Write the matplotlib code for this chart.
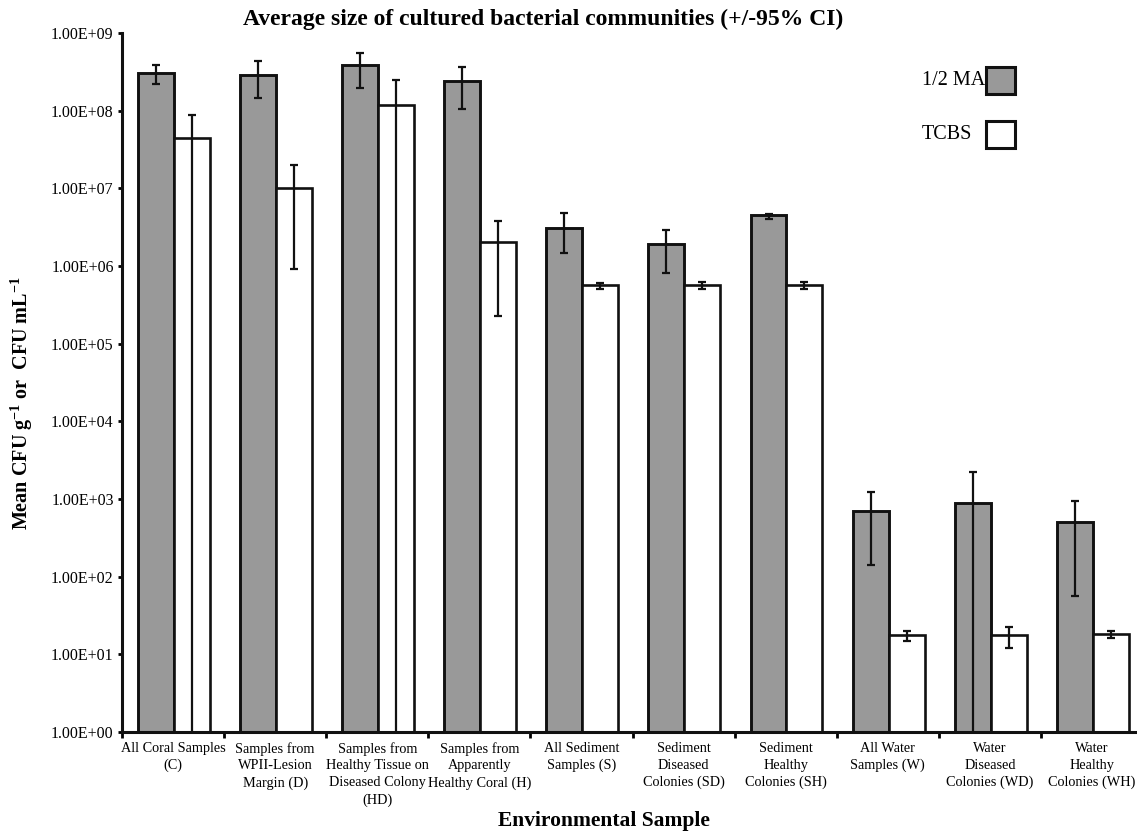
import numpy as np
import matplotlib
matplotlib.use("Agg")
import matplotlib.pyplot as plt
from matplotlib.patches import Rectangle
from matplotlib.ticker import FixedLocator, FuncFormatter, NullLocator

plt.rcParams['font.family'] = ['Liberation Serif', 'DejaVu Serif']
plt.rcParams['mathtext.fontset'] = 'custom'
plt.rcParams['mathtext.rm'] = 'Liberation Serif'
plt.rcParams['mathtext.bf'] = 'Liberation Serif:bold'

# sample groups
categories = [
    "All Coral Samples\n(C)",
    "Samples from\nWPII-Lesion\nMargin (D)",
    "Samples from\nHealthy Tissue on\nDiseased Colony\n(HD)",
    "Samples from\nApparently\nHealthy Coral (H)",
    "All Sediment\nSamples (S)",
    "Sediment\nDiseased\nColonies (SD)",
    "Sediment\nHealthy\nColonies (SH)",
    "All Water\nSamples (W)",
    "Water\nDiseased\nColonies (WD)",
    "Water\nHealthy\nColonies (WH)",
]

# mean counts and 95% CI limits, 1/2 MA medium
ma_mean = [3.07e8, 2.92e8, 3.88e8, 2.44e8, 3.1e6, 1.92e6, 4.48e6, 697, 893, 507]
ma_upper = [3.9e8, 4.4e8, 5.6e8, 3.7e8, 4.8e6, 2.9e6, 4.66e6, 1237, 2198, 938]
ma_lower = [2.2e8, 1.47e8, 1.95e8, 1.04e8, 1.46e6, 8.2e5, 4.0e6, 140, -400, 56.9]

# mean counts and 95% CI limits, TCBS medium
tcbs_mean = [4.4e7, 1.02e7, 1.18e8, 2.06e6, 5.77e5, 5.77e5, 5.77e5, 17.7, 17.7, 18.4]
tcbs_upper = [8.8e7, 2.0e7, 2.5e8, 3.8e6, 6.0e5, 6.3e5, 6.3e5, 19.9, 22.4, 19.9]
tcbs_lower = [-1e7, 9.3e5, -1e7, 2.3e5, 5.07e5, 5.0e5, 5.0e5, 14.8, 12.1, 16.3]

series_names = ["1/2 MA", "TCBS"]
series_colors = ["#999999", "white"]

ma_mean = np.array(ma_mean)
tcbs_mean = np.array(tcbs_mean)
ma_err = [ma_mean - np.array(ma_lower), np.array(ma_upper) - ma_mean]
tcbs_err = [tcbs_mean - np.array(tcbs_lower), np.array(tcbs_upper) - tcbs_mean]

fig = plt.figure(figsize=(11.37, 8.34), dpi=100)
ax = fig.add_axes([0.1073, 0.1223, 0.898, 0.838])

x = np.arange(len(categories)) + 0.508
w = 0.352

ax.bar(x - w / 2, ma_mean, w, color=series_colors[0], edgecolor='#111111',
       linewidth=2.1, zorder=2)
ax.bar(x + w / 2, tcbs_mean, w, color=series_colors[1], edgecolor='#111111',
       linewidth=1.9, zorder=2)
ax.errorbar(x - w / 2, ma_mean, yerr=ma_err, fmt='none', ecolor='#111111',
            elinewidth=1.6, capsize=3, capthick=1.6, zorder=3)
ax.errorbar(x + w / 2, tcbs_mean, yerr=tcbs_err, fmt='none', ecolor='#111111',
            elinewidth=1.6, capsize=3, capthick=1.6, zorder=3)

ax.set_yscale('log', nonpositive='clip')
ax.set_ylim(1, 1e9)
ax.set_xlim(0, len(categories))
ax.yaxis.set_major_locator(FixedLocator([10.0 ** k for k in range(10)]))
ax.yaxis.set_minor_locator(NullLocator())
ax.yaxis.set_major_formatter(FuncFormatter(lambda v, p: f"{v:.2E}"))

# group boundaries get the tick marks, names sit under the group centres
ax.xaxis.set_major_locator(FixedLocator(np.arange(len(categories) + 1)))
ax.xaxis.set_major_formatter(FuncFormatter(lambda v, p: ""))
ax.xaxis.set_minor_locator(FixedLocator(np.arange(len(categories)) + 0.5))
ax.set_xticklabels(categories, minor=True, fontsize=10.3, linespacing=1.38)
ax.tick_params(axis='x', which='minor', length=0, pad=7)
ax.tick_params(axis='x', which='major', length=4, width=2, direction='out')
ax.tick_params(axis='y', which='major', length=3, width=2, direction='out',
               labelsize=11.5, pad=3)

for side in ['top', 'right']:
    ax.spines[side].set_visible(False)
for side in ['left', 'bottom']:
    ax.spines[side].set_linewidth(2.2)
    ax.spines[side].set_color('#111111')

# legend: names on the left, swatches lined up on the right
for i, (name, col) in enumerate(zip(series_names, series_colors)):
    yb = 0.9127 - i * 0.0772
    ax.add_patch(Rectangle((0.846, yb), 0.0284, 0.0386, transform=ax.transAxes,
                           facecolor=col, edgecolor='#111111', linewidth=2.2,
                           clip_on=False, zorder=4))
    ax.text(0.7835, yb + 0.0193, name, transform=ax.transAxes, fontsize=14.5,
            va='center', ha='left')

fig.text(0.478, 0.9766, "Average size of cultured bacterial communities (+/-95% CI)",
         ha='center', va='center', fontsize=17, fontweight='bold')
fig.text(0.531, 0.015, "Environmental Sample", ha='center', va='center',
         fontsize=15.5, fontweight='bold')
fig.text(0.0193, 0.517, r"Mean CFU g$^{\mathbf{-1}}$ or  CFU mL$^{\mathbf{-1}}$",
         rotation=90, ha='center', va='center', fontsize=14.5, fontweight='bold')

fig.savefig("out.png", dpi=100)
